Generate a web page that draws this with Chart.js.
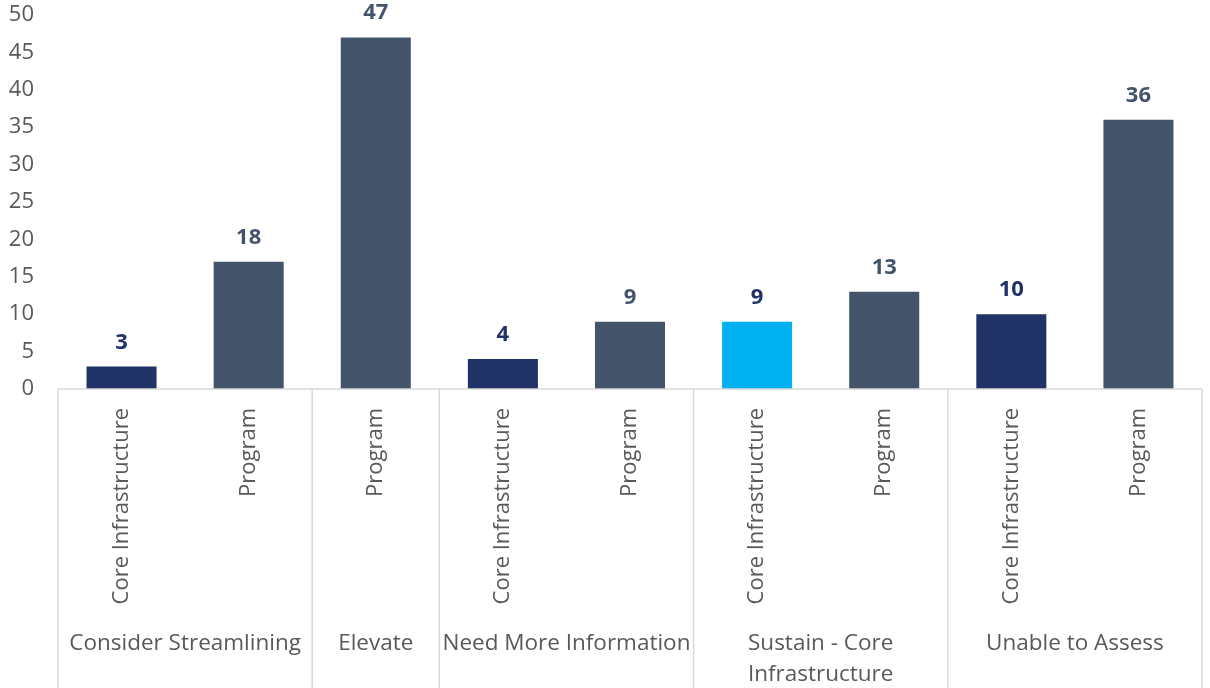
<!DOCTYPE html>
<html>
<head>
<meta charset="utf-8">
<script src="https://cdn.jsdelivr.net/npm/chart.js@4/dist/chart.umd.min.js"></script>
<style>
html, body { margin: 0; padding: 0; background: #fff; }
</style>
</head>
<body>
<canvas id="chart" width="1210" height="688"></canvas>
<script>
const barLabels = ["Core Infrastructure", "Program", "Program", "Core Infrastructure", "Program",
    "Core Infrastructure", "Program", "Core Infrastructure", "Program"];
const groupNames = [["Consider Streamlining"], ["Elevate"], ["Need More Information"],
    ["Sustain - Core", "Infrastructure"], ["Unable to Assess"]];
const groupSizes = [2, 1, 2, 2, 2];
const barValues = [3, 17, 47, 4, 9, 9, 13, 10, 36];
const valueLabels = ["3", "18", "47", "4", "9", "9", "13", "10", "36"];
const yTicks = [0, 5, 10, 15, 20, 25, 30, 35, 40, 45, 50];

const NAVY = "#213366";
const SLATE = "#44546A";
const CYAN = "#00B0F0";
const barColors = [NAVY, SLATE, SLATE, NAVY, SLATE, CYAN, SLATE, NAVY, SLATE];
const labelColors = [NAVY, SLATE, SLATE, NAVY, SLATE, NAVY, SLATE, NAVY, SLATE];

const FONT = '"Open Sans", "Noto Sans", sans-serif';
const TEXT = "#595959";
const LINE = "#d9d9d9";
const PLOT_TOP = 15;

// pin the top of the plot area (layout otherwise leaves a gap above 50)
const plotTopPlugin = {
    id: "plotTop",
    afterLayout(chart) {
        const area = chart.chartArea;
        const y = chart.scales.y;
        area.top = PLOT_TOP;
        area.height = area.bottom - area.top;
        y.top = PLOT_TOP;
        y.height = y.bottom - y.top;
        y.configure();
    }
};

// value labels above the bars
const valueLabelPlugin = {
    id: "valueLabels",
    afterDatasetsDraw(chart) {
        const ctx = chart.ctx;
        const meta = chart.getDatasetMeta(0);
        ctx.save();
        ctx.font = "bold 22px " + FONT;
        ctx.textAlign = "center";
        ctx.textBaseline = "alphabetic";
        meta.data.forEach((bar, i) => {
            ctx.fillStyle = labelColors[i];
            ctx.fillText(valueLabels[i], bar.x, bar.y - 18);
        });
        ctx.restore();
    }
};

// group separators and group names under the rotated labels
const groupAxisPlugin = {
    id: "groupAxis",
    afterDraw(chart) {
        const ctx = chart.ctx;
        const x = chart.scales.x;
        const area = chart.chartArea;
        const half = (x.getPixelForValue(1) - x.getPixelForValue(0)) / 2;
        ctx.save();
        ctx.strokeStyle = LINE;
        ctx.lineWidth = 1.5;
        ctx.beginPath();
        ctx.moveTo(area.left, area.bottom);
        ctx.lineTo(area.right, area.bottom);
        ctx.stroke();

        ctx.font = "22.5px " + FONT;
        ctx.fillStyle = TEXT;
        ctx.textAlign = "center";
        ctx.textBaseline = "middle";

        let start = 0;
        groupSizes.forEach((n, g) => {
            const left = x.getPixelForValue(start) - half;
            const right = x.getPixelForValue(start + n - 1) + half;
            ctx.beginPath();
            ctx.moveTo(left, area.bottom);
            ctx.lineTo(left, chart.height);
            ctx.stroke();
            if (g === groupSizes.length - 1) {
                ctx.beginPath();
                ctx.moveTo(right, area.bottom);
                ctx.lineTo(right, chart.height);
                ctx.stroke();
            }
            const cx = (left + right) / 2;
            groupNames[g].forEach((line, k) => {
                ctx.fillText(line, cx, area.bottom + 255 + k * 31);
            });
            start += n;
        });
        ctx.restore();
    }
};

new Chart(document.getElementById("chart").getContext("2d"), {
    type: "bar",
    data: {
        labels: barLabels,
        datasets: [{
            data: barValues,
            backgroundColor: barColors,
            categoryPercentage: 1,
            barPercentage: 0.551
        }]
    },
    options: {
        responsive: false,
        animation: false,
        layout: { autoPadding: false, padding: { top: 15, right: 8, left: 0, bottom: 0 } },
        plugins: {
            legend: { display: false },
            tooltip: { enabled: false }
        },
        scales: {
            x: {
                grid: { display: false, drawTicks: false },
                border: { display: false },
                ticks: {
                    autoSkip: false,
                    minRotation: 90,
                    maxRotation: 90,
                    padding: 19,
                    color: TEXT,
                    font: { family: FONT, size: 22 }
                },
                afterFit(scale) { scale.height = 299; }
            },
            y: {
                min: 0,
                max: 50,
                afterBuildTicks(scale) { scale.ticks = yTicks.map(v => ({ value: v })); },
                grid: { display: false, drawTicks: false },
                border: { display: false },
                ticks: {
                    padding: 24,
                    color: TEXT,
                    font: { family: FONT, size: 22 }
                },
                afterFit(scale) { scale.width = 58; }
            }
        }
    },
    plugins: [plotTopPlugin, valueLabelPlugin, groupAxisPlugin]
});
</script>
</body>
</html>
